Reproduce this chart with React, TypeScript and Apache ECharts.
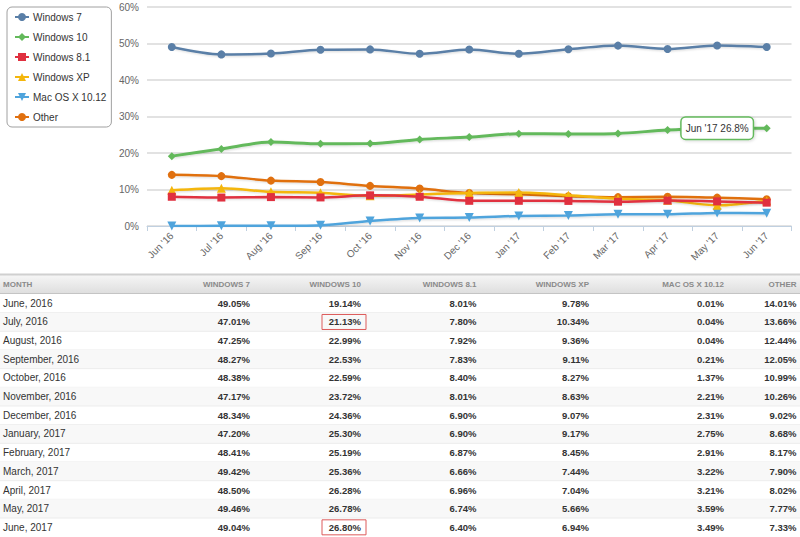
import React, { useEffect, useRef } from "react";
import * as echarts from "echarts";

const categories = ["Jun '16", "Jul '16", "Aug '16", "Sep '16", "Oct '16", "Nov '16", "Dec '16", "Jan '17", "Feb '17", "Mar '17", "Apr '17", "May '17", "Jun '17"];
const monthNames = ["June, 2016", "July, 2016", "August, 2016", "September, 2016", "October, 2016", "November, 2016", "December, 2016", "January, 2017", "February, 2017", "March, 2017", "April, 2017", "May, 2017", "June, 2017"];
const seriesNames = ["Windows 7", "Windows 10", "Windows 8.1", "Windows XP", "Mac OS X 10.12", "Other"];
const windows7 = [49.05, 47.01, 47.25, 48.27, 48.38, 47.17, 48.34, 47.20, 48.41, 49.42, 48.50, 49.46, 49.04];
const windows10 = [19.14, 21.13, 22.99, 22.53, 22.59, 23.72, 24.36, 25.30, 25.19, 25.36, 26.28, 26.78, 26.80];
const windows81 = [8.01, 7.80, 7.92, 7.83, 8.40, 8.01, 6.90, 6.90, 6.87, 6.66, 6.96, 6.74, 6.40];
const windowsXP = [9.78, 10.34, 9.36, 9.11, 8.27, 8.63, 9.07, 9.17, 8.45, 7.44, 7.04, 5.66, 6.94];
const macOS = [0.01, 0.04, 0.04, 0.21, 1.37, 2.21, 2.31, 2.75, 2.91, 3.22, 3.21, 3.59, 3.49];
const other = [14.01, 13.66, 12.44, 12.05, 10.99, 10.26, 9.02, 8.68, 8.17, 7.90, 8.02, 7.77, 7.33];
const yTicks = [0, 10, 20, 30, 40, 50, 60];
const highlightedCells = [{ row: 1, col: 1 }, { row: 12, col: 1 }];

const allSeries = [windows7, windows10, windows81, windowsXP, macOS, other];
const colors = ["#5a7fa7", "#63b95b", "#e0303f", "#f4b60c", "#4fa4dc", "#e0700f"];
const symbols = ["circle", "diamond", "rect", "triangle", "triangle", "circle"];
const symbolSizes = [8, 8, 8, 9, 9, 8];
const symbolRotates = [0, 0, 0, 0, 180, 0];

const FONT = "Arial, 'Liberation Sans', sans-serif";

export default function App() {
  const ref = useRef<HTMLDivElement>(null);
  useEffect(() => {
    const chart = echarts.init(ref.current!, null, { renderer: "svg" });

    const colRight = [250, 361, 476.5, 589, 724, 796.5];
    const headerTop = 275;
    const headerBottom = 293.5;
    const rowH = 18.67;
    const firstCenter = 303.3;
    const graphics: any[] = [];
    graphics.push({
      type: "rect",
      shape: { x: 0, y: headerTop, width: 800, height: headerBottom - headerTop },
      style: {
        fill: new echarts.graphic.LinearGradient(0, 0, 0, 1, [
          { offset: 0, color: "#f6f6f6" },
          { offset: 1, color: "#dedede" },
        ]),
      },
      silent: true,
    });
    graphics.push({ type: "line", shape: { x1: 0, y1: headerTop - 0.5, x2: 800, y2: headerTop - 0.5 }, style: { stroke: "#d0d0d0", lineWidth: 2 }, silent: true });
    graphics.push({ type: "line", shape: { x1: 0, y1: headerBottom, x2: 800, y2: headerBottom }, style: { stroke: "#c4c4c4", lineWidth: 1 }, silent: true });
    const headerY = (headerTop + headerBottom) / 2;
    graphics.push({ type: "text", x: 3, y: headerY, style: { text: "MONTH", font: `bold 8px ${FONT}`, fill: "#8a8a8a", verticalAlign: "middle", align: "left" }, silent: true });
    seriesNames.forEach((n, c) => {
      graphics.push({ type: "text", x: colRight[c], y: headerY, style: { text: n.toUpperCase(), font: `bold 8px ${FONT}`, fill: "#8a8a8a", verticalAlign: "middle", align: "right" }, silent: true });
    });
    monthNames.forEach((m, r) => {
      const cy = firstCenter + r * rowH;
      const top = cy - rowH / 2;
      if (r % 2 === 1) {
        graphics.push({ type: "rect", shape: { x: 0, y: top, width: 800, height: rowH }, style: { fill: "#f8f8f8" }, silent: true });
      }
      if (r < monthNames.length - 1) {
        graphics.push({ type: "line", shape: { x1: 0, y1: top + rowH, x2: 800, y2: top + rowH }, style: { stroke: "#ececec", lineWidth: 1 }, silent: true });
      }
      graphics.push({ type: "text", x: 3, y: cy, style: { text: m, font: `10px ${FONT}`, fill: "#333", verticalAlign: "middle", align: "left" }, silent: true });
      allSeries.forEach((s, c) => {
        graphics.push({ type: "text", x: colRight[c], y: cy, style: { text: s[r].toFixed(2) + "%", font: `bold 9.5px ${FONT}`, fill: "#333", verticalAlign: "middle", align: "right" }, silent: true });
      });
    });
    highlightedCells.forEach(({ row, col }) => {
      const cy = firstCenter + row * rowH;
      graphics.push({
        type: "rect",
        shape: { x: colRight[col] - 39, y: cy - 7.5, width: 44, height: 15 },
        style: { fill: "none", stroke: "#dd5a5a", lineWidth: 1 },
        silent: true,
      });
    });

    const last = categories.length - 1;
    const series = allSeries.map((vals, i) => ({
      name: seriesNames[i],
      type: "line",
      smooth: 0.3,
      data: vals.map((v, j) => {
        if (i === 1 && j === last) {
          return {
            value: v,
            label: {
              show: true,
              position: "left",
              distance: 10,
              formatter: `${categories[j]} ${v.toFixed(1)}%`,
              backgroundColor: "#fff",
              borderColor: colors[i],
              borderWidth: 1.5,
              borderRadius: 4,
              padding: [6, 4, 5, 4],
              color: "#333",
              fontSize: 10,
              fontFamily: FONT,
              shadowColor: "rgba(0,0,0,0.15)",
              shadowBlur: 3,
              shadowOffsetX: 1,
              shadowOffsetY: 1,
            },
          };
        }
        return v;
      }),
      symbol: symbols[i],
      symbolSize: symbolSizes[i],
      symbolRotate: symbolRotates[i],
      showAllSymbol: true,
      itemStyle: { color: colors[i] },
      lineStyle: {
        color: colors[i],
        width: i === 1 ? 3 : 2.5,
        shadowColor: "rgba(0,0,0,0.15)",
        shadowBlur: 2,
        shadowOffsetX: 1,
        shadowOffsetY: 1,
      },
      z: 10 - i,
    }));

    chart.setOption({
      animation: false,
      textStyle: { fontFamily: FONT },
      grid: { left: 147, right: 8.5, top: 7, bottom: 311, containLabel: false },
      legend: {
        orient: "vertical",
        left: 7,
        top: 7,
        data: seriesNames,
        itemWidth: 14,
        itemHeight: 10,
        itemGap: 10,
        padding: [5, 5, 5, 7],
        borderColor: "#a0a0a0",
        borderWidth: 1,
        borderRadius: 5,
        backgroundColor: "#fff",
        textStyle: { color: "#333", fontSize: 10, fontFamily: FONT, padding: [0, 0, 0, -1] },
      },
      xAxis: {
        type: "category",
        data: categories,
        boundaryGap: true,
        axisLine: { lineStyle: { color: "#c0d0e0", width: 1 } },
        axisTick: { show: true, alignWithLabel: false, length: 5, lineStyle: { color: "#c0d0e0" } },
        axisLabel: { rotate: 45, color: "#666", fontSize: 10, margin: 8, fontFamily: FONT },
      },
      yAxis: {
        type: "value",
        min: yTicks[0],
        max: yTicks[yTicks.length - 1],
        interval: 10,
        axisLine: { show: false },
        axisTick: { show: false },
        axisLabel: { formatter: "{value}%", color: "#666", fontSize: 10, margin: 8, fontFamily: FONT },
        splitLine: { lineStyle: { color: "#d8d8d8", width: 1.5 } },
      },
      series,
      graphic: graphics,
    });
    return () => chart.dispose();
  }, []);
  return <div ref={ref} style={{ position: "fixed", left: 0, top: 0, width: 800, height: 537, background: "#fff" }} />;
}
